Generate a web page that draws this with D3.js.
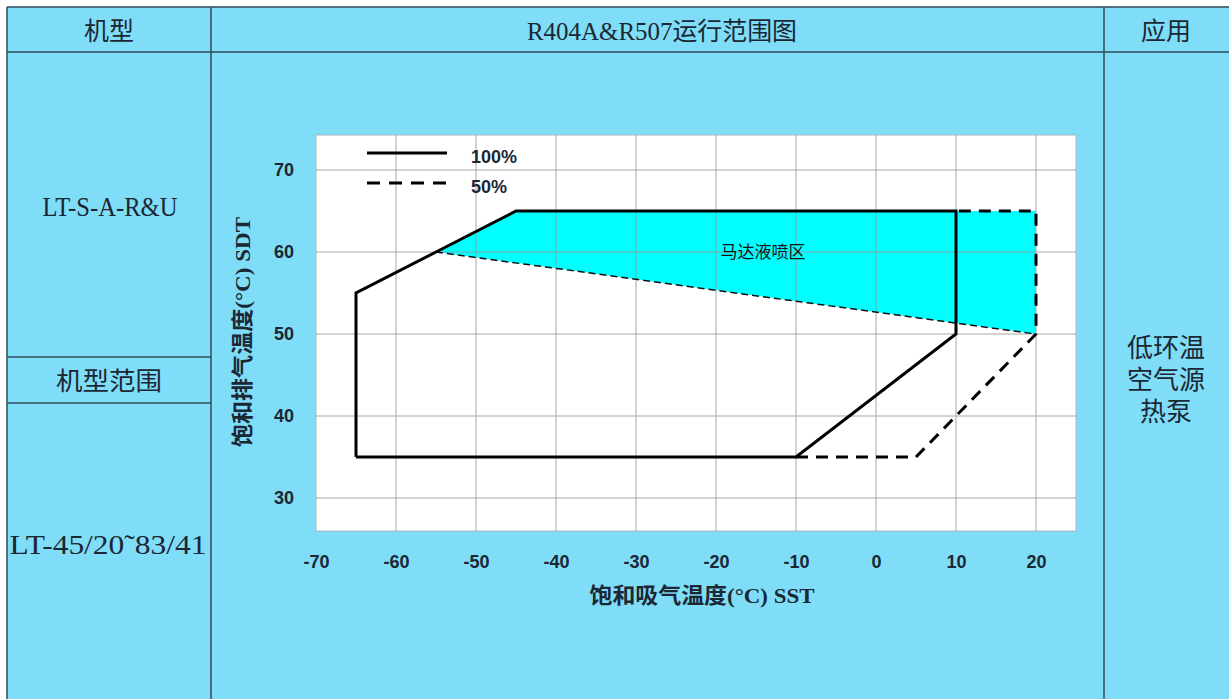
<!DOCTYPE html>
<html><head><meta charset="utf-8">
<script src="https://cdn.jsdelivr.net/npm/d3@7"></script>
<style>
html,body{margin:0;padding:0;background:#fff;}
svg{display:block;}
</style></head>
<body>
<script>
// ---- data ----
const headerLabels = ["机型", "R404A&R507运行范围图", "应用"];
const modelName = "LT-S-A-R&U";
const rangeTitle = "机型范围";
const modelRange = "LT-45/20˜83/41";
const applicationLines = ["低环温", "空气源", "热泵"];

const xTicks = [-70, -60, -50, -40, -30, -20, -10, 0, 10, 20];
const yTicks = [30, 40, 50, 60, 70];
const xTitle = "饱和吸气温度(°C) SST";
const yTitle = "饱和排气温度(°C) SDT";

const fullLoad = [[-65, 35], [-65, 55], [-55, 60], [-45, 65], [10, 65], [10, 50], [-10, 35], [-65, 35]];
const halfLoad = [[-10, 35], [5, 35], [20, 50], [20, 65], [10, 65]];
const sprayZone = [[-55, 60], [-45, 65], [20, 65], [20, 50]];
const sprayEdge = [[-55, 60], [20, 50]];
const sprayLabel = {x: -15, y: 60, text: "马达液喷区"};
const legendItems = [{label: "100%", dash: null}, {label: "50%", dash: "12,8"}];

// ---- layout ----
const W = 1229, H = 699;
const bg = "#80ddf8", lineCol = "#2f4a5a", textCol = "#1b2733";
const cjk = "'Liberation Serif','Noto Sans CJK SC',serif";
const sans = "'Liberation Sans',Arial,sans-serif";

const svg = d3.select("body").append("svg").attr("width", W).attr("height", H);
svg.append("rect").attr("width", W).attr("height", H).attr("fill", "#fff");
svg.append("rect").attr("x", 7).attr("y", 7).attr("width", W - 7).attr("height", H - 7).attr("fill", bg);

// table lines
const tl = svg.append("g").attr("stroke", lineCol).attr("stroke-width", 1.5);
[[7, 7, W, 7], [7, 52, W, 52], [7, 7, 7, H], [211, 7, 211, H], [1104, 7, 1104, H], [7, 357, 211, 357], [7, 403, 211, 403]]
  .forEach(d => tl.append("line").attr("x1", d[0]).attr("y1", d[1]).attr("x2", d[2]).attr("y2", d[3]));

function txt(x, y, s, size, opts = {}) {
  const t = svg.append("text").attr("x", x).attr("y", y).attr("text-anchor", opts.anchor || "middle")
    .attr("dominant-baseline", "central").attr("font-family", opts.family || cjk)
    .attr("font-size", size).attr("font-weight", opts.weight || "normal")
    .attr("fill", opts.fill || textCol).text(s);
  if (opts.len) t.attr("textLength", opts.len).attr("lengthAdjust", "spacingAndGlyphs");
  return t;
}
txt(109, 31, headerLabels[0], 25);
txt(662, 31, headerLabels[1], 25, {len: 270});
txt(1166, 31, headerLabels[2], 25);
txt(110, 207, modelName, 27, {len: 135});
txt(109, 381, rangeTitle, 25, {len: 106});
txt(108, 545, modelRange, 27, {len: 197});
applicationLines.forEach((s, i) => txt(1166, 348 + i * 32, s, 26));

// ---- chart ----
const x = d3.scaleLinear().domain([-70, 25]).range([316, 1076]);
const y = d3.scaleLinear().domain([30, 70]).range([498, 170]);
const plotTop = 135, plotBottom = 531;

const chart = svg.append("g");
chart.append("rect").attr("x", x(-70)).attr("y", plotTop).attr("width", x(25) - x(-70))
  .attr("height", plotBottom - plotTop).attr("fill", "#fff").attr("stroke", "#a8b8c0").attr("stroke-width", 1);

const line = d3.line().x(d => x(d[0])).y(d => y(d[1]));

chart.append("path").attr("d", line(sprayZone) + "Z").attr("fill", "#00ffff");

// grid
const grid = chart.append("g").attr("stroke", "#9a9a9a").attr("stroke-width", 1).attr("opacity", 0.85);
xTicks.filter(t => t > -70).forEach(t => grid.append("line").attr("x1", x(t)).attr("x2", x(t)).attr("y1", plotTop).attr("y2", plotBottom));
yTicks.forEach(t => grid.append("line").attr("x1", x(-70)).attr("x2", x(25)).attr("y1", y(t)).attr("y2", y(t)));

chart.append("path").attr("d", line(sprayEdge)).attr("fill", "none").attr("stroke", "#111")
  .attr("stroke-width", 1.5).attr("stroke-dasharray", "7,4");
chart.append("path").attr("d", line(halfLoad)).attr("fill", "none").attr("stroke", "#000")
  .attr("stroke-width", 3).attr("stroke-dasharray", "12,8").attr("stroke-linejoin", "miter");
chart.append("path").attr("d", line(fullLoad)).attr("fill", "none").attr("stroke", "#000")
  .attr("stroke-width", 3).attr("stroke-linejoin", "miter");

chart.append("text").attr("x", x(sprayLabel.x) + 7).attr("y", y(sprayLabel.y)).attr("text-anchor", "middle")
  .attr("dominant-baseline", "central").attr("font-family", cjk).attr("font-size", 17).attr("fill", "#111").text(sprayLabel.text);

// legend
legendItems.forEach((d, i) => {
  const ly = 153 + i * 30;
  const l = chart.append("line").attr("x1", 367).attr("x2", 447).attr("y1", ly).attr("y2", ly)
    .attr("stroke", "#000").attr("stroke-width", 3);
  if (d.dash) l.attr("stroke-dasharray", "13,9");
  chart.append("text").attr("x", 471).attr("y", ly + 4).attr("dominant-baseline", "central")
    .attr("font-family", sans).attr("font-weight", "bold").attr("font-size", 18).attr("fill", textCol).text(d.label);
});

// axes (labels only)
const fmt = d => String(d);
const xAxis = d3.axisBottom(x).tickValues(xTicks).tickSize(0).tickPadding(0).tickFormat(fmt);
const gx = svg.append("g").attr("transform", `translate(0,${plotBottom + 24})`).call(xAxis);
gx.select(".domain").remove();
gx.selectAll("text").attr("font-family", sans).attr("font-weight", "bold").attr("font-size", 18).attr("fill", textCol);

const yAxis = d3.axisLeft(y).tickValues(yTicks).tickSize(0).tickPadding(0).tickFormat(fmt);
const gy = svg.append("g").attr("transform", `translate(294,0)`).call(yAxis);
gy.select(".domain").remove();
gy.selectAll("text").attr("font-family", sans).attr("font-weight", "bold").attr("font-size", 18).attr("fill", textCol);

svg.append("text").attr("x", 702).attr("y", 595).attr("text-anchor", "middle").attr("dominant-baseline", "central")
  .attr("font-family", cjk).attr("font-weight", "bold").attr("font-size", 22).attr("fill", textCol)
  .attr("textLength", 225).attr("lengthAdjust", "spacingAndGlyphs").text(xTitle);
svg.append("text").attr("transform", "translate(242,332) rotate(-90)").attr("text-anchor", "middle").attr("dominant-baseline", "central")
  .attr("font-family", cjk).attr("font-weight", "bold").attr("font-size", 22).attr("fill", textCol)
  .attr("textLength", 230).attr("lengthAdjust", "spacingAndGlyphs").text(yTitle);
</script>
</body></html>
